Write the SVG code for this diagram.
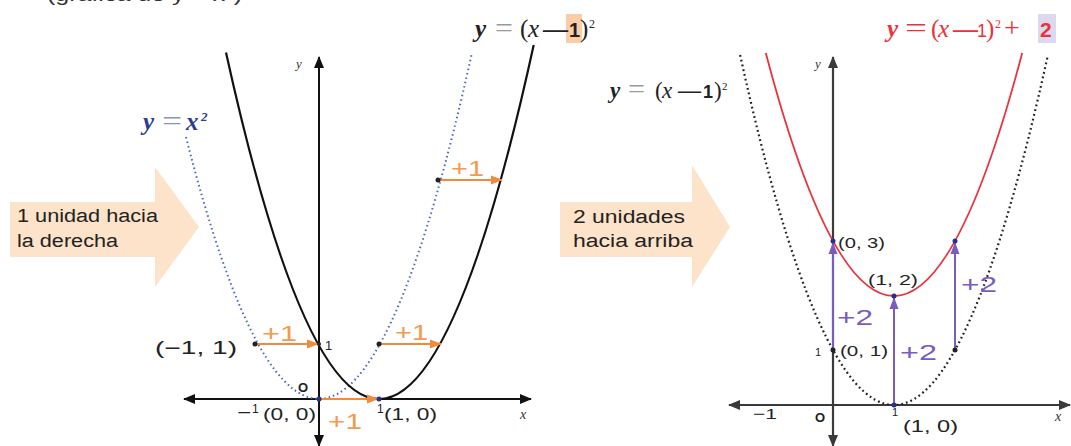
<svg xmlns="http://www.w3.org/2000/svg" width="1071" height="446" viewBox="0 0 1071 446">
<style>
.sans{font-family:"Liberation Sans",Arial,sans-serif;}
.serif{font-family:"Liberation Serif","Times New Roman",serif;}
.lbl{font-family:"Liberation Sans",Arial,sans-serif;fill:#222;}
.orange{font-family:"Liberation Sans",Arial,sans-serif;fill:#f39a4f;font-size:22px;}
.purple{font-family:"Liberation Sans",Arial,sans-serif;fill:#7a5cc0;font-size:22px;}
.eq{font-family:"Liberation Serif","Times New Roman",serif;font-size:28px;}
.axis{stroke:#111;stroke-width:2;fill:none;}
.axis2{stroke:#3a3a3a;stroke-width:2.2;fill:none;}
.big{fill:#fde3c9;}
.oarr{stroke:#f08a3c;stroke-width:2;fill:none;}
.parr{stroke:#7a5cc0;stroke-width:2;fill:none;}
</style>
<defs>
<marker id="ah" markerUnits="userSpaceOnUse" markerWidth="12" markerHeight="10" refX="11" refY="5" orient="auto"><path d="M0,0 L12,5 L0,10 z" fill="#111"/></marker>
<marker id="ah2" markerUnits="userSpaceOnUse" markerWidth="12" markerHeight="10" refX="11" refY="5" orient="auto"><path d="M0,0 L12,5 L0,10 z" fill="#3a3a3a"/></marker>
<marker id="oh" markerUnits="userSpaceOnUse" markerWidth="12" markerHeight="10" refX="11" refY="5" orient="auto"><path d="M0,0.5 L12,5 L0,9.5 z" fill="#f08a3c"/></marker>
<marker id="ph" markerUnits="userSpaceOnUse" markerWidth="12" markerHeight="10" refX="11" refY="5" orient="auto"><path d="M0,0.5 L12,5 L0,9.5 z" fill="#7a5cc0"/></marker>
</defs>

<text class="sans" x="47" y="1" font-size="19" fill="#333" textLength="195" lengthAdjust="spacingAndGlyphs">(gráfica de y = x²)</text>

<g id="arrow-left">
<path class="big" d="M10,202 H155 V167 L199,227 L155,287 V257 H10 Z"/>
<text class="lbl" x="17" y="222" font-size="18" textLength="141" lengthAdjust="spacingAndGlyphs">1 unidad hacia</text>
<text class="lbl" x="17" y="247" font-size="18" textLength="101" lengthAdjust="spacingAndGlyphs">la derecha</text>
</g>

<g id="arrow-right">
<path class="big" d="M560,202 H692 V165 L730,227 L692,287 V257 H560 Z"/>
<text class="lbl" x="573" y="223" font-size="18" textLength="112" lengthAdjust="spacingAndGlyphs">2 unidades</text>
<text class="lbl" x="573" y="247" font-size="18" textLength="120" lengthAdjust="spacingAndGlyphs">hacia arriba</text>
</g>

<g id="left-axes">
<line class="axis" x1="319" y1="399" x2="184" y2="399" marker-end="url(#ah)"/>
<line class="axis" x1="319" y1="399" x2="531" y2="399" marker-end="url(#ah)"/>
<line class="axis" x1="319" y1="399" x2="319" y2="57" marker-end="url(#ah)"/>
<line class="axis" x1="319" y1="399" x2="319" y2="446" marker-end="url(#ah)"/>
<text class="serif" x="296" y="68" font-size="13" font-style="italic" fill="#333">y</text>
<text class="serif" x="520" y="419" font-size="14" font-style="italic" fill="#333">x</text>
</g>

<g id="curve-x2">
<path d="M186,137 Q328.85,699.4 471.7,54" fill="none" stroke="#4a68c4" stroke-width="2" stroke-dasharray="1.5 3"/>
<text class="serif" font-size="25" font-weight="bold" font-style="italic" fill="#2c3d91"><tspan x="143" y="130">y</tspan><tspan x="186" y="130">x</tspan><tspan x="201" y="121" font-size="13">2</tspan></text>
<text class="eq" x="162" y="130" fill="#8a93bf" textLength="20" lengthAdjust="spacingAndGlyphs">=</text>
</g>

<g id="curve-x-1-2">
<path d="M226,52.5 Q379.85,749.3 533.7,45" fill="none" stroke="#111" stroke-width="2.2"/>
<rect x="566" y="14" width="16" height="29" fill="#fbcda6"/>
<text class="serif" font-size="25" fill="#222"><tspan x="475" y="37" font-weight="bold" font-style="italic">y</tspan><tspan x="520" y="37">(</tspan><tspan x="528" y="37" font-style="italic">x</tspan><tspan x="543" y="37" font-weight="bold">—</tspan><tspan x="569" y="37" class="sans" font-weight="bold" font-size="20">1</tspan><tspan x="580" y="37">)</tspan><tspan x="589" y="28" font-size="12">2</tspan></text>
<text class="eq" x="495" y="37" fill="#9a9a9a" textLength="18" lengthAdjust="spacingAndGlyphs">=</text>
</g>

<g id="left-shifts">
<line class="oarr" x1="255" y1="344" x2="318" y2="344" marker-end="url(#oh)"/>
<line class="oarr" x1="379" y1="344" x2="441" y2="344" marker-end="url(#oh)"/>
<line class="oarr" x1="438" y1="180" x2="502" y2="180" marker-end="url(#oh)"/>
<line class="oarr" x1="319" y1="399" x2="378" y2="399" marker-end="url(#oh)"/>
<circle cx="255" cy="344" r="2.5" fill="#222"/>
<circle cx="379" cy="344" r="2.5" fill="#222"/>
<circle cx="438" cy="180" r="2.5" fill="#222"/>
<circle cx="319" cy="344" r="2" fill="#222"/>
<circle cx="319" cy="399" r="2.5" fill="#23318a"/>
<circle cx="379" cy="399" r="2.5" fill="#23318a"/>
<text class="orange" x="262" y="341" textLength="35" lengthAdjust="spacingAndGlyphs">+1</text>
<text class="orange" x="395" y="340" textLength="33" lengthAdjust="spacingAndGlyphs">+1</text>
<text class="orange" x="451" y="176" textLength="33" lengthAdjust="spacingAndGlyphs">+1</text>
<text class="orange" x="328" y="429" textLength="34" lengthAdjust="spacingAndGlyphs">+1</text>
</g>

<g id="left-labels">
<text class="lbl" x="155" y="354" font-size="18" textLength="82" lengthAdjust="spacingAndGlyphs">(−1, 1)</text>
<text class="lbl" x="325" y="350" font-size="13">1</text>
<text class="lbl" x="298" y="392" font-size="13" font-weight="bold">O</text>
<text class="lbl" x="237" y="418" font-size="16" textLength="14" lengthAdjust="spacingAndGlyphs">−</text>
<text class="lbl" x="252" y="413" font-size="12">1</text>
<text class="lbl" x="263" y="420" font-size="17" textLength="53" lengthAdjust="spacingAndGlyphs">(0, 0)</text>
<text class="lbl" x="377" y="413" font-size="12">1</text>
<text class="lbl" x="384" y="420" font-size="17" textLength="53" lengthAdjust="spacingAndGlyphs">(1, 0)</text>
</g>

<g id="right-axes">
<line class="axis2" x1="833" y1="405" x2="729" y2="405" marker-end="url(#ah2)"/>
<line class="axis2" x1="833" y1="405" x2="1070" y2="405" marker-end="url(#ah2)"/>
<line class="axis2" x1="833" y1="405" x2="833" y2="57" marker-end="url(#ah2)"/>
<line class="axis2" x1="833" y1="405" x2="833" y2="446" marker-end="url(#ah2)"/>
<text class="serif" x="815" y="68" font-size="13" font-style="italic" fill="#333">y</text>
<text class="serif" x="1055" y="421" font-size="14" font-style="italic" fill="#333">x</text>
</g>

<g id="curve-right-dotted">
<path d="M740.1,55 Q894,755 1047.9,55" fill="none" stroke="#222" stroke-width="2.2" stroke-dasharray="1.8 3"/>
<text class="serif" font-size="23" fill="#222"><tspan x="610" y="98" font-weight="bold" font-style="italic">y</tspan><tspan x="655" y="98">(</tspan><tspan x="662" y="98" font-style="italic">x</tspan><tspan x="678" y="98" font-weight="bold">—</tspan><tspan x="703" y="98" class="sans" font-weight="bold" font-size="18">1</tspan><tspan x="714" y="98">)</tspan><tspan x="722" y="90" font-size="11">2</tspan></text>
<text class="eq" x="628" y="98" fill="#9a9a9a" textLength="17" lengthAdjust="spacingAndGlyphs">=</text>
</g>

<g id="curve-red">
<path d="M765.8,53 Q894,539 1022.2,53" fill="none" stroke="#e8333c" stroke-width="1.8"/>
<rect x="1038" y="14" width="18" height="29" fill="#dcd8ee"/>
<text class="serif" font-size="25" fill="#e8333c"><tspan x="887" y="37" font-weight="bold" font-style="italic">y</tspan><tspan x="931" y="37">(</tspan><tspan x="938" y="37" font-style="italic">x</tspan><tspan x="953" y="37" font-weight="bold">—</tspan><tspan x="977" y="37" class="sans" font-size="18">1</tspan><tspan x="986" y="37">)</tspan><tspan x="995" y="28" font-size="12">2</tspan><tspan x="1004" y="37" font-size="28">+</tspan><tspan x="1040" y="37" class="sans" font-weight="bold" font-size="21">2</tspan></text>
<text class="eq" x="905" y="37" fill="#e8333c" textLength="22" lengthAdjust="spacingAndGlyphs">=</text>
</g>

<g id="right-shifts">
<line class="parr" x1="833" y1="350" x2="833" y2="243" stroke-width="2.6" marker-end="url(#ph)"/>
<line class="parr" x1="894" y1="405" x2="894" y2="298" marker-end="url(#ph)"/>
<line class="parr" x1="955" y1="350" x2="955" y2="243" marker-end="url(#ph)"/>
<circle cx="833" cy="241" r="2.5" fill="#23318a"/>
<circle cx="894" cy="296" r="2.5" fill="#23318a"/>
<circle cx="955" cy="241" r="2.5" fill="#23318a"/>
<circle cx="894" cy="405" r="2.5" fill="#23318a"/>
<circle cx="833" cy="350" r="2.5" fill="#222"/>
<circle cx="955" cy="350" r="2.5" fill="#222"/>
<text class="purple" x="837" y="325" textLength="36" lengthAdjust="spacingAndGlyphs">+2</text>
<text class="purple" x="900" y="360" textLength="37" lengthAdjust="spacingAndGlyphs">+2</text>
<text class="purple" x="961" y="292" textLength="36" lengthAdjust="spacingAndGlyphs">+2</text>
</g>

<g id="right-labels">
<text class="lbl" x="838" y="248" font-size="15" textLength="47" lengthAdjust="spacingAndGlyphs">(0, 3)</text>
<text class="lbl" x="868" y="285" font-size="15" textLength="50" lengthAdjust="spacingAndGlyphs">(1, 2)</text>
<text class="lbl" x="815" y="356" font-size="11">1</text>
<text class="lbl" x="840" y="356" font-size="15" textLength="48" lengthAdjust="spacingAndGlyphs">(0, 1)</text>
<text class="lbl" x="753" y="419" font-size="15" textLength="24" lengthAdjust="spacingAndGlyphs">−1</text>
<text class="lbl" x="815" y="422" font-size="13" font-weight="bold">O</text>
<text class="lbl" x="892" y="416" font-size="11">1</text>
<text class="lbl" x="903" y="432" font-size="17" textLength="55" lengthAdjust="spacingAndGlyphs">(1, 0)</text>
</g>
</svg>
